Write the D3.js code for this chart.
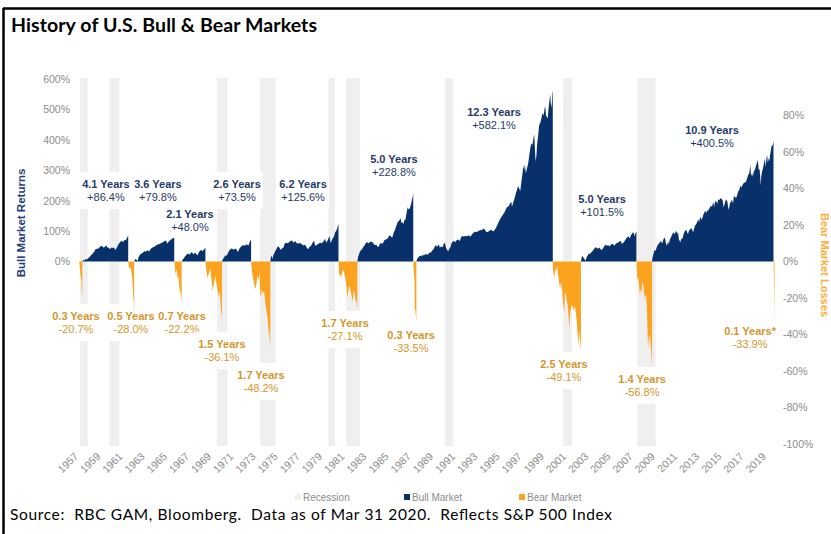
<!DOCTYPE html>
<html>
<head>
<meta charset="utf-8">
<title>History of U.S. Bull &amp; Bear Markets</title>
<script src="https://d3js.org/d3.v7.min.js"></script>
<style>
  html, body { margin: 0; background: #fff; }
  svg { display: block; }
  text { font-family: "Liberation Sans", Arial, sans-serif; }
  .title, .source { font-family: Lato, "Open Sans", sans-serif; }
</style>
</head>
<body>
<svg id="chart" width="831" height="534"></svg>
<script>
// recessions, [start, end] in decimal years
const recessions = [
  [1957.6, 1958.3], [1960.25, 1961.15], [1969.95, 1970.9], [1973.85, 1975.25],
  [1980.0, 1980.6], [1981.6, 1982.85], [1990.5, 1991.25], [2001.15, 2001.95],
  [2007.85, 2009.5]
];

// bull markets: cumulative price return from the trough, %
const bull1957 = [[1957.81,0],[1957.9,5],[1958.0,3],[1958.1,8],[1958.2,6],[1958.3,10],[1958.4,12],[1958.5,16],[1958.6,21],[1958.7,24],[1958.8,29],[1958.9,33],[1959.0,40],[1959.1,42],[1959.2,41],[1959.35,46],[1959.5,52],[1959.6,50],[1959.7,46],[1959.8,47],[1959.9,50],[1960.0,53],[1960.1,44],[1960.2,46],[1960.3,40],[1960.45,46],[1960.55,44],[1960.65,46],[1960.8,38],[1960.95,48],[1961.1,58],[1961.25,64],[1961.35,68],[1961.5,64],[1961.6,71],[1961.7,70],[1961.8,74],[1961.9,82],[1961.95,84]];
const bull1962 = [[1962.49,0],[1962.55,6],[1962.62,8],[1962.7,6],[1962.8,2],[1962.88,14],[1962.95,19],[1963.05,24],[1963.15,26],[1963.25,28],[1963.4,34],[1963.55,33],[1963.7,37],[1963.85,33],[1963.95,40],[1964.1,45],[1964.25,48],[1964.4,51],[1964.55,55],[1964.7,57],[1964.85,59],[1965.0,62],[1965.15,65],[1965.3,69],[1965.4,66],[1965.47,58],[1965.55,63],[1965.7,69],[1965.85,73],[1966.0,77],[1966.1,78]];
const bull1966 = [[1966.77,0],[1966.85,6],[1966.95,10],[1967.1,18],[1967.25,24],[1967.35,26],[1967.45,22],[1967.6,28],[1967.7,31],[1967.8,24],[1967.9,26],[1968.0,29],[1968.1,24],[1968.2,20],[1968.3,30],[1968.42,35],[1968.55,38],[1968.65,34],[1968.75,38],[1968.85,43],[1968.91,45]];
const bull1970 = [[1970.4,0],[1970.5,8],[1970.6,14],[1970.7,20],[1970.8,19],[1970.9,24],[1971.0,33],[1971.1,38],[1971.25,43],[1971.35,42],[1971.45,39],[1971.55,41],[1971.65,43],[1971.75,37],[1971.85,31],[1971.95,40],[1972.05,46],[1972.2,51],[1972.3,54],[1972.45,52],[1972.6,56],[1972.7,55],[1972.8,53],[1972.9,64],[1972.97,69],[1973.03,72]];
const bull1974 = [[1974.76,0],[1974.82,14],[1974.88,20],[1974.95,8],[1975.05,22],[1975.15,30],[1975.3,40],[1975.45,50],[1975.55,48],[1975.7,38],[1975.8,43],[1975.95,46],[1976.05,58],[1976.2,62],[1976.35,60],[1976.5,65],[1976.7,70],[1976.85,62],[1977.0,67],[1977.15,60],[1977.3,59],[1977.45,61],[1977.6,57],[1977.75,53],[1977.9,55],[1978.05,45],[1978.15,40],[1978.3,48],[1978.45,53],[1978.6,63],[1978.7,68],[1978.8,52],[1978.95,54],[1979.1,58],[1979.25,62],[1979.4,60],[1979.55,66],[1979.7,75],[1979.8,62],[1979.95,71],[1980.1,84],[1980.2,60],[1980.35,73],[1980.5,82],[1980.6,95],[1980.72,102],[1980.8,110],[1980.88,120],[1980.91,123]];
const bull1982 = [[1982.61,0],[1982.66,12],[1982.72,20],[1982.8,28],[1982.88,35],[1982.95,37],[1983.05,42],[1983.15,48],[1983.3,56],[1983.45,64],[1983.55,62],[1983.65,60],[1983.8,66],[1983.95,64],[1984.05,60],[1984.15,54],[1984.3,55],[1984.42,50],[1984.55,48],[1984.62,58],[1984.75,60],[1984.9,59],[1985.05,70],[1985.2,73],[1985.35,76],[1985.5,86],[1985.65,82],[1985.75,78],[1985.9,96],[1986.0,103],[1986.1,115],[1986.25,130],[1986.4,135],[1986.5,142],[1986.6,126],[1986.7,130],[1986.75,122],[1986.85,136],[1986.95,138],[1987.05,160],[1987.15,178],[1987.25,170],[1987.35,176],[1987.45,188],[1987.55,205],[1987.6,212],[1987.65,226]];
const bull1987 = [[1987.93,0],[1988.0,8],[1988.1,13],[1988.2,17],[1988.3,19],[1988.4,17],[1988.5,22],[1988.6,20],[1988.7,23],[1988.8,25],[1988.9,22],[1989.0,24],[1989.1,30],[1989.2,29],[1989.3,33],[1989.4,38],[1989.5,41],[1989.6,50],[1989.7,54],[1989.78,48],[1989.85,52],[1989.95,56],[1990.05,46],[1990.15,49],[1990.3,47],[1990.4,58],[1990.5,62],[1990.6,46],[1990.7,38],[1990.8,34],[1990.9,42],[1991.0,47],[1991.1,60],[1991.2,65],[1991.35,67],[1991.45,63],[1991.55,70],[1991.7,72],[1991.85,67],[1991.95,78],[1992.05,84],[1992.2,82],[1992.35,84],[1992.5,83],[1992.65,86],[1992.8,81],[1992.95,90],[1993.1,95],[1993.25,98],[1993.4,97],[1993.55,101],[1993.7,103],[1993.85,104],[1994.0,108],[1994.1,105],[1994.25,96],[1994.4,98],[1994.55,102],[1994.7,104],[1994.85,99],[1994.95,102],[1995.1,110],[1995.25,122],[1995.4,134],[1995.55,144],[1995.7,152],[1995.85,160],[1995.95,168],[1996.1,178],[1996.25,182],[1996.4,192],[1996.5,196],[1996.55,180],[1996.65,192],[1996.8,210],[1996.9,224],[1997.0,236],[1997.1,248],[1997.2,240],[1997.3,232],[1997.4,262],[1997.5,290],[1997.58,316],[1997.65,300],[1997.72,320],[1997.8,290],[1997.9,306],[1998.0,320],[1998.1,345],[1998.2,372],[1998.3,388],[1998.4,384],[1998.5,408],[1998.56,418],[1998.62,370],[1998.68,330],[1998.75,345],[1998.82,385],[1998.9,410],[1999.0,448],[1999.1,455],[1999.2,470],[1999.3,488],[1999.4,480],[1999.5,505],[1999.55,510],[1999.62,480],[1999.7,475],[1999.78,470],[1999.85,505],[1999.92,525],[2000.0,550],[2000.05,520],[2000.1,505],[2000.15,522],[2000.2,560],[2000.23,555]];
const bull2002 = [[2002.77,0],[2002.83,12],[2002.9,18],[2002.97,14],[2003.05,10],[2003.12,6],[2003.2,3],[2003.28,15],[2003.38,20],[2003.48,26],[2003.58,25],[2003.68,30],[2003.8,34],[2003.9,38],[2003.98,43],[2004.08,47],[2004.18,45],[2004.3,42],[2004.42,46],[2004.55,40],[2004.65,38],[2004.78,44],[2004.9,52],[2004.98,56],[2005.1,52],[2005.22,54],[2005.32,49],[2005.45,54],[2005.58,58],[2005.7,56],[2005.8,52],[2005.9,58],[2006.0,61],[2006.1,62],[2006.25,66],[2006.35,68],[2006.45,58],[2006.55,60],[2006.68,66],[2006.8,73],[2006.92,79],[2007.05,83],[2007.15,76],[2007.25,84],[2007.38,92],[2007.48,96],[2007.55,91],[2007.6,82],[2007.68,92],[2007.77,98]];
const bull2009 = [[2009.18,0],[2009.22,12],[2009.27,20],[2009.33,28],[2009.4,38],[2009.45,36],[2009.52,35],[2009.58,45],[2009.65,50],[2009.72,56],[2009.78,58],[2009.85,62],[2009.92,65],[2010.0,68],[2010.06,60],[2010.12,62],[2010.2,72],[2010.3,80],[2010.37,72],[2010.42,62],[2010.5,52],[2010.56,58],[2010.63,66],[2010.68,56],[2010.74,66],[2010.8,74],[2010.88,78],[2010.95,86],[2011.05,92],[2011.15,96],[2011.22,89],[2011.3,98],[2011.38,100],[2011.45,90],[2011.52,98],[2011.58,80],[2011.62,66],[2011.7,73],[2011.76,62],[2011.82,76],[2011.9,74],[2011.97,82],[2012.05,93],[2012.15,100],[2012.25,104],[2012.35,96],[2012.42,90],[2012.5,100],[2012.6,105],[2012.7,110],[2012.8,104],[2012.88,96],[2012.96,106],[2013.05,118],[2013.15,122],[2013.25,130],[2013.35,138],[2013.42,130],[2013.5,142],[2013.58,146],[2013.65,136],[2013.73,145],[2013.82,155],[2013.9,162],[2013.98,168],[2014.05,158],[2014.12,166],[2014.22,168],[2014.32,172],[2014.42,180],[2014.5,184],[2014.58,178],[2014.65,190],[2014.72,194],[2014.78,178],[2014.85,195],[2014.95,200],[2015.05,190],[2015.15,204],[2015.25,202],[2015.35,208],[2015.45,206],[2015.55,200],[2015.63,178],[2015.7,186],[2015.8,200],[2015.9,204],[2015.98,195],[2016.05,176],[2016.1,170],[2016.2,190],[2016.3,198],[2016.4,202],[2016.48,190],[2016.55,214],[2016.65,214],[2016.75,208],[2016.85,218],[2016.95,230],[2017.05,236],[2017.15,248],[2017.25,244],[2017.35,252],[2017.45,258],[2017.55,260],[2017.65,262],[2017.75,274],[2017.85,284],[2017.95,292],[2018.05,318],[2018.1,280],[2018.2,292],[2018.27,278],[2018.35,296],[2018.45,302],[2018.55,314],[2018.65,326],[2018.72,334],[2018.8,300],[2018.87,306],[2018.93,280],[2018.98,250],[2019.03,280],[2019.1,296],[2019.2,310],[2019.3,330],[2019.36,338],[2019.42,310],[2019.5,340],[2019.56,350],[2019.62,324],[2019.7,340],[2019.76,330],[2019.82,350],[2019.88,362],[2019.95,378],[2020.02,384],[2020.06,378],[2020.1,392],[2020.13,396]];

// bear markets: drawdown from the peak, %
const bear1957 = [[1957.54,0],[1957.6,-4],[1957.65,-7],[1957.7,-10],[1957.72,-8],[1957.75,-14],[1957.78,-17],[1957.81,-20.7]];
const bear1961 = [[1961.95,0],[1962.05,-4],[1962.15,-3],[1962.25,-6],[1962.33,-10],[1962.38,-16],[1962.41,-22],[1962.44,-19],[1962.47,-27],[1962.49,-28]];
const bear1966 = [[1966.11,0],[1966.18,-5],[1966.25,-7],[1966.32,-4],[1966.4,-10],[1966.48,-8],[1966.56,-14],[1966.62,-18],[1966.68,-16],[1966.74,-21],[1966.77,-22.2]];
const bear1968 = [[1968.91,0],[1969.0,-5],[1969.1,-9],[1969.2,-7],[1969.35,-4],[1969.5,-12],[1969.56,-16],[1969.65,-13],[1969.8,-8],[1969.9,-12],[1970.0,-15],[1970.1,-19],[1970.2,-16],[1970.28,-23],[1970.34,-30],[1970.37,-27],[1970.4,-36.1]];
const bear1973 = [[1973.03,0],[1973.12,-6],[1973.2,-9],[1973.3,-12],[1973.4,-15],[1973.5,-13],[1973.6,-8],[1973.7,-10],[1973.78,-6],[1973.85,-17],[1973.92,-20],[1974.0,-15],[1974.1,-18],[1974.2,-16],[1974.3,-22],[1974.4,-26],[1974.5,-30],[1974.55,-34],[1974.62,-40],[1974.66,-37],[1974.7,-45],[1974.73,-42],[1974.76,-48.2]];
const bear1980 = [[1980.91,0],[1980.98,-8],[1981.05,-7],[1981.15,-9],[1981.3,-4],[1981.45,-7],[1981.55,-10],[1981.65,-15],[1981.72,-20],[1981.8,-16],[1981.9,-13],[1982.0,-16],[1982.1,-19],[1982.18,-22],[1982.27,-16],[1982.37,-17],[1982.45,-22],[1982.53,-21],[1982.58,-25],[1982.61,-27.1]];
const bear1987 = [[1987.65,0],[1987.7,-5],[1987.74,-8],[1987.77,-12],[1987.79,-31],[1987.81,-26],[1987.85,-27],[1987.89,-30],[1987.93,-33.5]];
const bear2000 = [[2000.23,0],[2000.28,-8],[2000.33,-5],[2000.4,-9],[2000.48,-4],[2000.55,-5],[2000.62,-2],[2000.7,-7],[2000.78,-10],[2000.85,-14],[2000.92,-12],[2000.98,-16],[2001.05,-11],[2001.12,-20],[2001.2,-25],[2001.26,-28],[2001.32,-18],[2001.4,-17],[2001.48,-21],[2001.58,-24],[2001.65,-30],[2001.71,-37],[2001.78,-29],[2001.88,-25],[2001.96,-24],[2002.05,-25],[2002.15,-27],[2002.22,-24],[2002.3,-28],[2002.4,-33],[2002.47,-40],[2002.54,-47],[2002.6,-38],[2002.66,-41],[2002.72,-45],[2002.77,-49.1]];
const bear2007 = [[2007.77,0],[2007.83,-7],[2007.88,-10],[2007.95,-9],[2008.02,-14],[2008.08,-18],[2008.15,-15],[2008.2,-18],[2008.3,-11],[2008.38,-12],[2008.45,-17],[2008.52,-21],[2008.58,-18],[2008.65,-19],[2008.7,-24],[2008.75,-32],[2008.78,-40],[2008.82,-46],[2008.86,-40],[2008.9,-48],[2008.95,-41],[2009.0,-40],[2009.05,-45],[2009.1,-49],[2009.14,-53],[2009.18,-56.8]];
const bear2020 = [[2020.14,0],[2020.16,-6],[2020.18,-14],[2020.2,-24],[2020.21,-30],[2020.22,-31]];

const bulls = [bull1957, bull1962, bull1966, bull1970, bull1974, bull1982, bull1987, bull2002, bull2009];
const bears = [bear1957, bear1961, bear1966, bear1968, bear1973, bear1980, bear1987, bear2000, bear2007, bear2020];

const bullYears = ["4.1 Years", "3.6 Years", "2.1 Years", "2.6 Years", "6.2 Years", "5.0 Years", "12.3 Years", "5.0 Years", "10.9 Years"];
const bullGains = ["+86.4%", "+79.8%", "+48.0%", "+73.5%", "+125.6%", "+228.8%", "+582.1%", "+101.5%", "+400.5%"];
const bearYears = ["0.3 Years", "0.5 Years", "0.7 Years", "1.5 Years", "1.7 Years", "1.7 Years", "0.3 Years", "2.5 Years", "1.4 Years", "0.1 Years*"];
const bearLosses = ["-20.7%", "-28.0%", "-22.2%", "-36.1%", "-48.2%", "-27.1%", "-33.5%", "-49.1%", "-56.8%", "-33.9%"];

// where each note sits: [year, axis value]
const bullNoteAt = [[1959.94,255],[1964.63,255],[1967.52,156],[1971.76,255],[1977.71,255],[1985.91,337],[1994.93,492],[2004.67,205],[2014.59,432]];
const bearNoteAt = [[1957.24,-29.9],[1962.2,-29.9],[1966.8,-29.9],[1970.4,-45.2],[1973.92,-62.2],[1981.5,-33.7],[1987.45,-40.3],[2001.24,-56.2],[2008.28,-64.4],[2018.02,-38.1]];

const leftTicks = [0, 100, 200, 300, 400, 500, 600];
const rightTicks = [80, 60, 40, 20, 0, -20, -40, -60, -80, -100];
const yearLabels = [1957,1959,1961,1963,1965,1967,1969,1971,1973,1975,1977,1979,1981,1983,1985,1987,1989,1991,1993,1995,1997,1999,2001,2003,2005,2007,2009,2011,2013,2015,2017,2019];

const NAVY = "#08306b", ORANGE = "#fba31e", GREY = "#8c8c8c";
const BULL_TXT = "#1f3a6a", BEAR_TXT = "#d4962c";

const svg = d3.select("#chart");

const x = d3.scaleLinear().domain([1957, 2020.5]).range([73.3, 777.6]);
const yL = d3.scaleLinear().domain([-600, 600]).range([444, 79]);
const yR = d3.scaleLinear().domain([-100, 100]).range([444, 79]);

// frame + title
svg.append("line").attr("x1", 3).attr("x2", 831).attr("y1", 8.5).attr("y2", 8.5)
  .attr("stroke", "#000").attr("stroke-width", 2.5);
svg.append("line").attr("x1", 3.5).attr("x2", 3.5).attr("y1", 8).attr("y2", 534)
  .attr("stroke", "#000").attr("stroke-width", 2.5);
svg.append("text").attr("class", "title")
  .attr("x", 11).attr("y", 32)
  .attr("font-size", 19.5).attr("font-weight", 700).attr("fill", "#000")
  .attr("textLength", 306).attr("lengthAdjust", "spacing")
  .text("History of U.S. Bull & Bear Markets");

// recession shading
svg.append("g").selectAll("rect")
  .data(recessions)
  .join("rect")
  .attr("x", d => x(d[0]))
  .attr("width", d => x(d[1]) - x(d[0]))
  .attr("y", yR(100) - 1)
  .attr("height", yR(-100) - yR(100) + 3)
  .attr("fill", "#efefef");

// notes (white boxes punch through the recession bars)
function addNotes(yrs, vals, at, yScale, colour) {
  const g = svg.append("g");
  yrs.forEach((t, i) => {
    const cx = x(at[i][0]), cy = yScale(at[i][1]);
    const n = g.append("g");
    const box = n.append("rect").attr("fill", "#fff");
    const t1 = n.append("text").attr("x", cx).attr("y", cy).attr("dy", "0.35em")
      .attr("text-anchor", "middle").attr("font-size", 11).attr("font-weight", 700)
      .attr("fill", colour).text(t);
    const t2 = n.append("text").attr("x", cx).attr("y", cy + 13.5).attr("dy", "0.35em")
      .attr("text-anchor", "middle").attr("font-size", 11)
      .attr("fill", colour).text(vals[i]);
    const w = Math.max(t1.node().getComputedTextLength(), t2.node().getComputedTextLength()) + 4;
    box.attr("x", cx - w / 2).attr("width", w).attr("y", cy - 12).attr("height", 37);
  });
}
addNotes(bullYears, bullGains, bullNoteAt, yL, BULL_TXT);
addNotes(bearYears, bearLosses, bearNoteAt, yR, BEAR_TXT);

// areas
const bullArea = d3.area().x(d => x(d[0])).y0(yL(0)).y1(d => yL(d[1]));
const bearArea = d3.area().x(d => x(d[0])).y0(yR(0)).y1(d => yR(d[1]));

svg.append("g").selectAll("path")
  .data(bulls)
  .join("path")
  .attr("d", bullArea)
  .attr("fill", NAVY);

svg.append("g").selectAll("path")
  .data(bears)
  .join("path")
  .attr("d", bearArea)
  .attr("fill", ORANGE);

// axes
const axL = svg.append("g").attr("transform", "translate(70,0)")
  .call(d3.axisLeft(yL).tickValues(leftTicks).tickFormat(d => d + "%").tickSize(0).tickPadding(0));
const axR = svg.append("g").attr("transform", "translate(783,0)")
  .call(d3.axisRight(yR).tickValues(rightTicks).tickFormat(d => d + "%").tickSize(0).tickPadding(0));
[axL, axR].forEach(a => {
  a.select(".domain").remove();
  a.selectAll("text").attr("fill", GREY).attr("font-size", 10.5)
    .attr("font-family", "'Liberation Sans', Arial, sans-serif");
});

svg.append("g").selectAll("text")
  .data(yearLabels)
  .join("text")
  .attr("transform", d => `translate(${x(d + 0.5)},457) rotate(-45)`)
  .attr("text-anchor", "end")
  .attr("font-size", 10.5)
  .attr("fill", GREY)
  .text(d => d);

// axis titles
svg.append("text")
  .attr("transform", "translate(25,223) rotate(-90)")
  .attr("text-anchor", "middle")
  .attr("font-size", 11.5).attr("font-weight", 700).attr("fill", "#1f3d7a")
  .text("Bull Market Returns");
svg.append("text")
  .attr("transform", "translate(821,265) rotate(90)")
  .attr("text-anchor", "middle")
  .attr("font-size", 11).attr("font-weight", 700).attr("fill", "#ffad33")
  .text("Bear Market Losses");

// legend
const legend = [["Recession", "#efefef", 295], ["Bull Market", NAVY, 404], ["Bear Market", ORANGE, 519]];
const lg = svg.append("g").selectAll("g").data(legend).join("g");
lg.append("rect").attr("x", d => d[2]).attr("y", 494).attr("width", 6).attr("height", 6).attr("fill", d => d[1]);
lg.append("text").attr("x", d => d[2] + 8).attr("y", 501)
  .attr("font-size", 10).attr("fill", GREY).text(d => d[0]);

// source line
svg.append("text").attr("class", "source")
  .attr("x", 10).attr("y", 520)
  .attr("font-size", 15.5).attr("fill", "#000")
  .attr("textLength", 602).attr("lengthAdjust", "spacing")
  .style("white-space", "pre")
  .text("Source:  RBC GAM, Bloomberg.  Data as of Mar 31 2020.  Reflects S&P 500 Index");
</script>
</body>
</html>
